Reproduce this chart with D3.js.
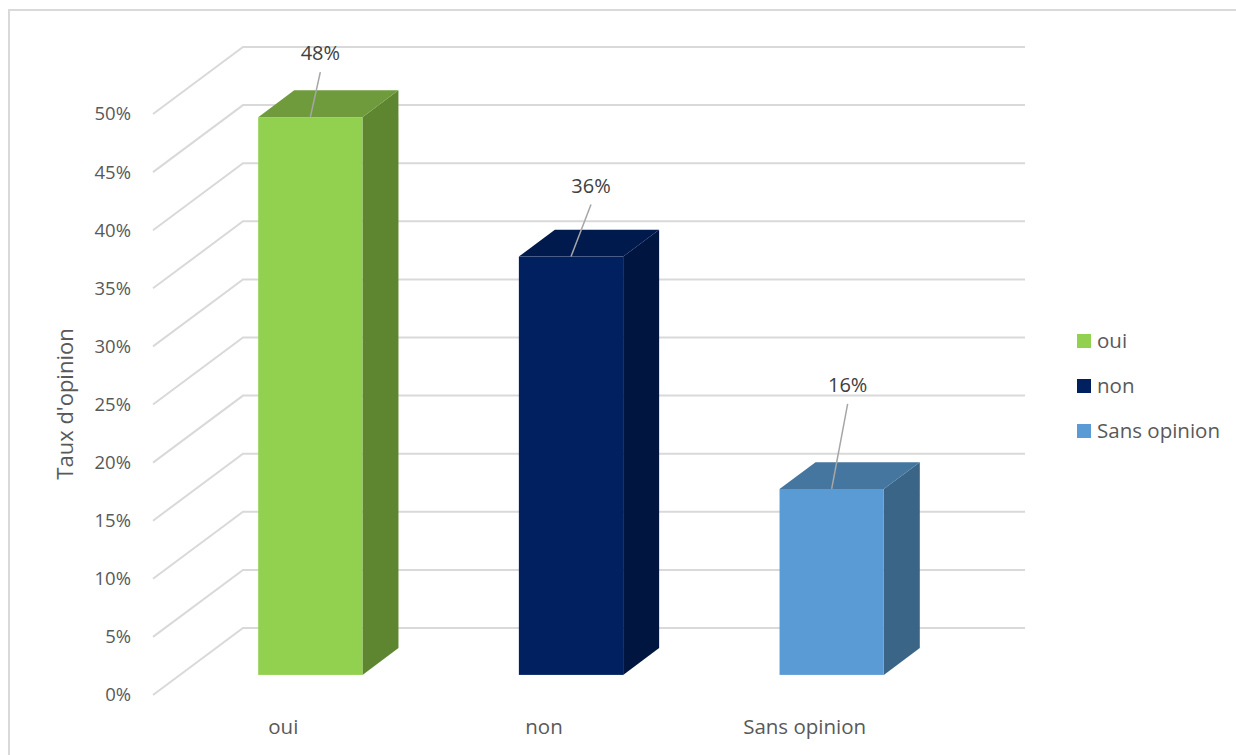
<!DOCTYPE html>
<html><head><meta charset="utf-8">
<script src="https://cdn.jsdelivr.net/npm/d3@7"></script>
<style>body{margin:0;background:#fff}svg{display:block}</style>
</head><body>
<svg id="c" width="1236" height="755"></svg>
<script>
const categories = ["oui", "non", "Sans opinion"];
const values = [0.48, 0.36, 0.16];
const valueLabels = ["48%", "36%", "16%"];
const yTicks = [0, 0.05, 0.10, 0.15, 0.20, 0.25, 0.30, 0.35, 0.40, 0.45, 0.50];
const yTickLabels = ["0%","5%","10%","15%","20%","25%","30%","35%","40%","45%","50%"];
const axisTitle = "Taux d'opinion";
const colors = {
  front: ["#92D050", "#002060", "#5B9BD5"],
  top:   ["#6F9B3C", "#001A4E", "#44769F"],
  side:  ["#5E8530", "#00153F", "#3A6587"]
};
// label leader offsets (layout, px): [dx, dy] of label centre from bar top-front centre
const labelLayout = [[10, -64], [20, -71], [16, -104]];

const svg = d3.select("#c");
const font = "'Open Sans', 'Liberation Sans', sans-serif";

// chart border
svg.append("path").attr("d", "M9,760 L9,10 L1240,10").attr("fill","none")
  .attr("stroke","#D9D9D9").attr("stroke-width",2);

// 3D projection
const DX = 90, DY = 67;
const y = d3.scaleLinear().domain([0, 0.5]).range([695, 114]);
const x = d3.scaleBand().domain(categories).range([153, 935]).paddingInner(0).paddingOuter(0);
const proj = (px, v, z) => [px + z * DX, y(v) - z * DY];

// gridlines: oblique side wall + back wall
const grid = svg.append("g");
yTicks.forEach(t => {
  const a = proj(153, t, 0), b = proj(153, t, 1), c = proj(935, t, 1);
  grid.append("path").attr("d", `M${a[0]},${a[1]}L${b[0]},${b[1]}L${c[0]},${c[1]}`)
    .attr("fill","none").attr("stroke","#D9D9D9").attr("stroke-width",2);
});

// y tick labels
svg.append("g").selectAll("text").data(yTicks).join("text")
  .attr("x", 131).attr("y", d => y(d)).attr("dy","0.35em")
  .attr("text-anchor","end").attr("font-family", font).attr("font-size", 18.5)
  .attr("fill","#595959").text((d,i) => yTickLabels[i]);

// axis title
svg.append("text").attr("transform","translate(73,404) rotate(-90)")
  .attr("text-anchor","middle").attr("font-family", font).attr("font-size", 22)
  .attr("fill","#595959").text(axisTitle);

// bars
const z0 = 0.3, z1 = 0.7, barFrac = 0.4;
const bars = svg.append("g");
categories.forEach((c, i) => {
  const bw = x.bandwidth() * barFrac;
  const xl = x(c) + (x.bandwidth() - bw) / 2, xr = xl + bw;
  const v = values[i];
  const p = (px, vv, z) => proj(px, vv, z).join(",");
  // side
  bars.append("path").attr("d", `M${p(xr,0,z0)}L${p(xr,0,z1)}L${p(xr,v,z1)}L${p(xr,v,z0)}Z`)
    .attr("fill", colors.side[i]);
  // top
  bars.append("path").attr("d", `M${p(xl,v,z0)}L${p(xl,v,z1)}L${p(xr,v,z1)}L${p(xr,v,z0)}Z`)
    .attr("fill", colors.top[i]);
  // front
  const f0 = proj(xl, v, z0), f1 = proj(xr, 0, z0);
  bars.append("rect").attr("x", f0[0]).attr("y", f0[1]).attr("width", f1[0]-f0[0]).attr("height", f1[1]-f0[1])
    .attr("fill", colors.front[i]);
  // data label with leader line
  const tc = proj((xl + xr) / 2, v, z0);
  const [ldx, ldy] = labelLayout[i];
  const lx = tc[0] + ldx, ly = tc[1] + ldy;
  bars.append("line").attr("x1", tc[0]).attr("y1", tc[1]).attr("x2", lx).attr("y2", ly + 19)
    .attr("stroke","#A6A6A6").attr("stroke-width",1.5);
  bars.append("text").attr("x", lx).attr("y", ly).attr("dy","0.35em").attr("text-anchor","middle")
    .attr("font-family", font).attr("font-size", 20).attr("fill","#404040").text(valueLabels[i]);
  // category label
  svg.append("text").attr("x", x(c) + x.bandwidth()/2).attr("y", 727).attr("dy","0.35em")
    .attr("text-anchor","middle").attr("font-family", font).attr("font-size", 20.5)
    .attr("fill","#595959").text(c);
});

// legend
const lg = svg.append("g").attr("transform","translate(1077,341)");
categories.forEach((c, i) => {
  const g = lg.append("g").attr("transform", `translate(0,${i*45})`);
  g.append("rect").attr("x",0).attr("y",-7).attr("width",14).attr("height",14).attr("fill", colors.front[i]);
  g.append("text").attr("x",20).attr("y",0).attr("dy","0.35em").attr("font-family", font)
    .attr("font-size", 20.5).attr("fill","#595959").text(c);
});
</script>
</body></html>
